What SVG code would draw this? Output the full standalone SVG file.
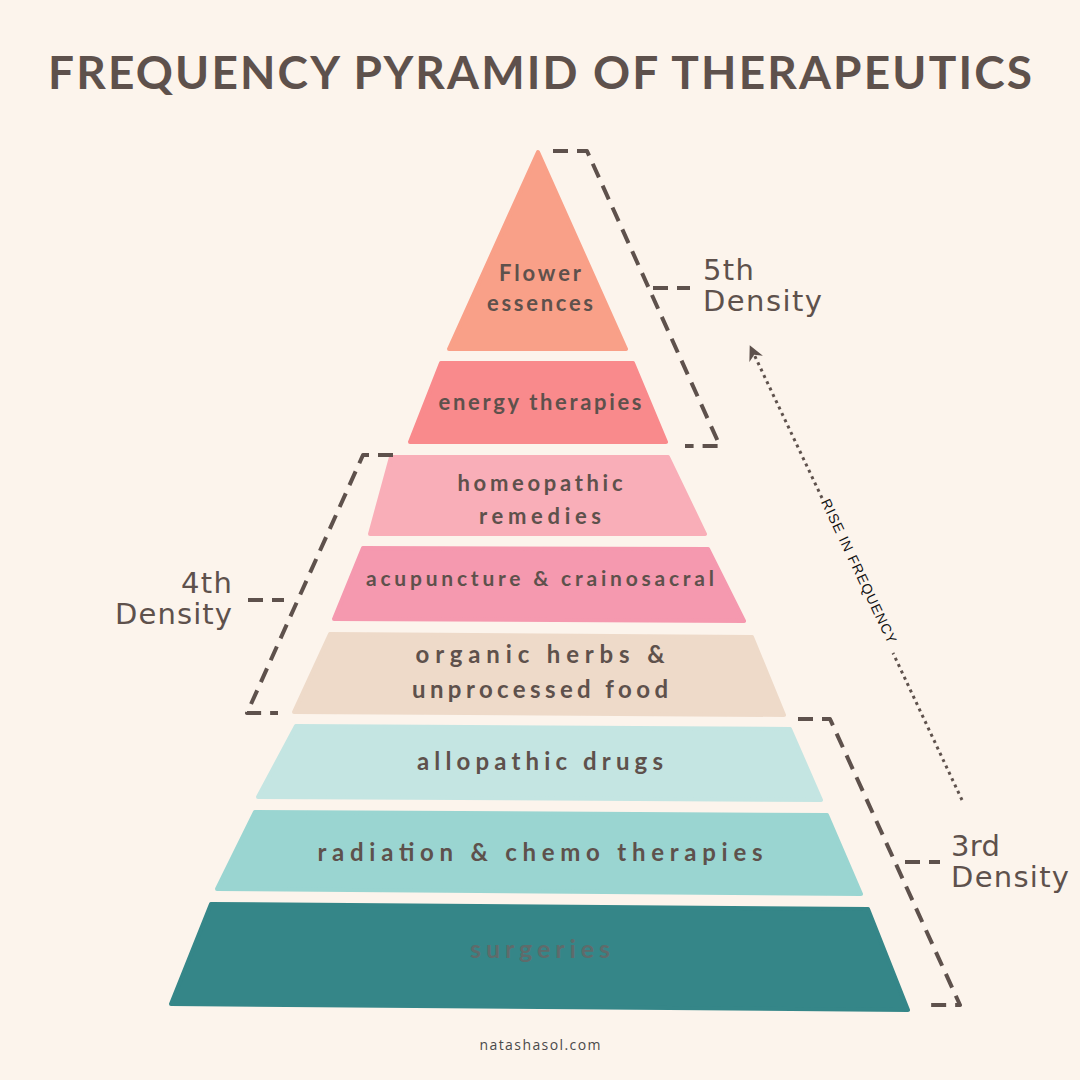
<svg xmlns="http://www.w3.org/2000/svg" width="1080" height="1080" viewBox="0 0 1080 1080">
<defs>
<style>
.lbl{font-family:"Lato","Open Sans",sans-serif;font-size:22px;fill:#5E514C;text-anchor:middle;font-weight:bold;}
.den{font-family:"DejaVu Sans","Open Sans",sans-serif;font-size:29px;fill:#5E514C;}
.br{fill:none;stroke:#5E514C;stroke-width:4;stroke-dasharray:15 9;stroke-linejoin:round;}
.band{stroke-width:4;stroke-linejoin:round;}
</style>
<marker id="ah" viewBox="0 0 10 10" refX="8" refY="5" markerWidth="5" markerHeight="5" orient="auto" markerUnits="strokeWidth">
<path d="M0,0 L10,5 L0,10 L3,5 Z" fill="#5E514C"/>
</marker>
</defs>
<rect width="1080" height="1080" fill="#FCF4EC"/>
<text x="540" y="89" textLength="984" lengthAdjust="spacing" style="font-family:'Lato','Open Sans',sans-serif;font-size:46px;font-weight:bold;fill:#5E514C;text-anchor:middle;">FREQUENCY PYRAMID OF THERAPEUTICS</text>

<g id="flower">
<polygon class="band" points="538,152 626,349 449,349" fill="#F9A088" stroke="#F9A088"/>
<text class="lbl" x="540" y="281" textLength="82">Flower</text>
<text class="lbl" x="540" y="311" textLength="106">essences</text>
</g>
<g id="energy">
<polygon class="band" points="441,363 633,363 666,442 410,442" fill="#F98A8C" stroke="#F98A8C"/>
<text class="lbl" x="540" y="410" textLength="203">energy therapies</text>
</g>
<g id="homeopathic">
<polygon class="band" points="391,457 668,457 705,534 370,534" fill="#F9AEB8" stroke="#F9AEB8"/>
<text class="lbl" x="540" y="491" textLength="165">homeopathic</text>
<text class="lbl" x="540" y="524" textLength="122">remedies</text>
</g>
<g id="acupuncture">
<polygon class="band" points="363,548 708,549 744,621 334,619" fill="#F599AF" stroke="#F599AF"/>
<text class="lbl" x="540" y="586" textLength="348" style="font-size:21px">acupuncture &amp; crainosacral</text>
</g>
<g id="organic">
<polygon class="band" points="330,634 752,637 784,715 294,712" fill="#EEDAC9" stroke="#EEDAC9"/>
<text class="lbl" x="540" y="663" textLength="249" style="font-size:24px">organic herbs &amp;</text>
<text class="lbl" x="540" y="698" textLength="256" style="font-size:24px">unprocessed food</text>
</g>
<g id="allopathic">
<polygon class="band" points="296,726 790,729 821,800 258,797" fill="#C4E5E2" stroke="#C4E5E2"/>
<text class="lbl" x="540" y="770" textLength="246" style="font-size:24px">allopathic drugs</text>
</g>
<g id="radiation">
<polygon class="band" points="255,812 827,815 861,894 217,889" fill="#9AD5D1" stroke="#9AD5D1"/>
<text class="lbl" x="540" y="861" textLength="445" style="font-size:24px">radiation &amp; chemo therapies</text>
</g>
<g id="surgeries">
<polygon class="band" points="211,904 868,909 908,1010 171,1004" fill="#358688" stroke="#358688"/>
<text class="lbl" x="540" y="958" textLength="140" style="font-size:25px;fill:#5F6B6B">surgeries</text>
</g>

<g id="density5">
<text class="den" x="703" y="280" textLength="51">5th</text>
<text class="den" x="703" y="311" textLength="119">Density</text>
</g>
<g id="density4">
<text class="den" x="232" y="593" text-anchor="end" textLength="51">4th</text>
<text class="den" x="232" y="624" text-anchor="end" textLength="117">Density</text>
</g>
<g id="density3">
<text class="den" x="951" y="856" textLength="49">3rd</text>
<text class="den" x="951" y="887" textLength="118">Density</text>
</g>

<g id="connectors">
<path class="br" d="M553,151 L587,151 L720,446 L685,446"/>
<path class="br" d="M653,288 L690,288"/>
<path class="br" d="M393,455 L363,455 L247,713 L278,713"/>
<path class="br" d="M248,600 L284,600"/>
<path class="br" d="M798,719 L830,719 L960,1005 L925,1005"/>
<path class="br" d="M905,862 L940,862"/>
<path d="M962,800 L893,653" fill="none" stroke="#5E514C" stroke-width="3" stroke-dasharray="3 4"/>
<path d="M822,498 L751,348" fill="none" stroke="#5E514C" stroke-width="3" stroke-dasharray="3 4" marker-end="url(#ah)"/>
<text x="859" y="571" transform="rotate(64.7 859 571)" text-anchor="middle" dominant-baseline="central" textLength="158" style="font-family:'Liberation Sans',Arial,sans-serif;font-size:14px;fill:#111;">RISE IN FREQUENCY</text>
</g>

<text x="540" y="1050" text-anchor="middle" textLength="121" style="font-family:'Open Sans','Lato',sans-serif;font-size:14px;fill:#4A4A4A;">natashasol.com</text>
</svg>
